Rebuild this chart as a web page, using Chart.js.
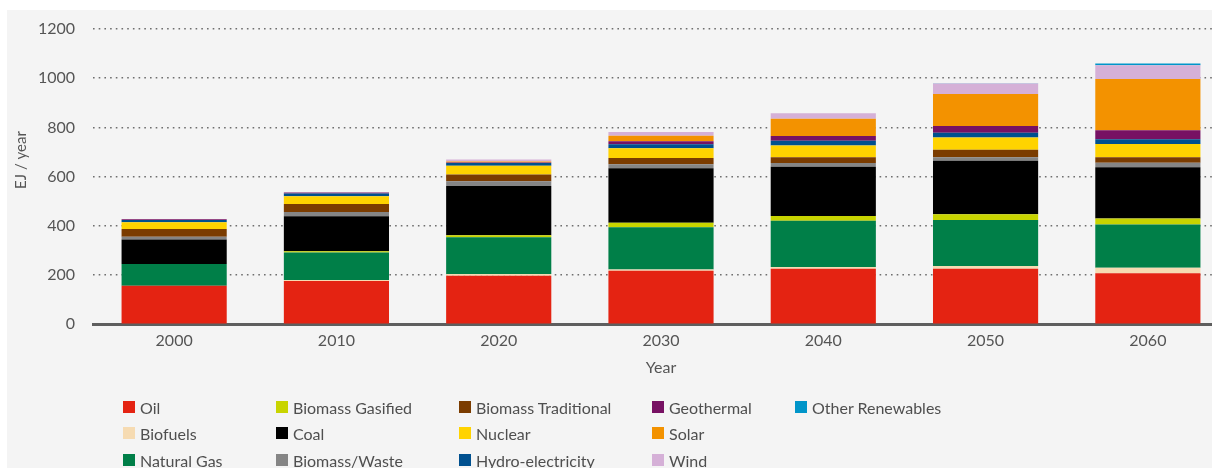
<!DOCTYPE html>
<html>
<head>
<meta charset="utf-8">
<script src="https://cdn.jsdelivr.net/npm/chart.js@4.4.1/dist/chart.umd.min.js"></script>
<style>
  html, body { margin: 0; padding: 0; width: 1212px; height: 468px; overflow: hidden; background: #ffffff; }
  #panel { position: absolute; left: 7px; top: 10px; width: 1205px; height: 458px; background: #f4f4f4; }
  #wrap { position: absolute; left: 0; top: 0; width: 1232px; height: 468px; }
  #legend { position: absolute; left: 0; top: 0; width: 1212px; height: 468px; pointer-events: none; }
  .item { position: absolute; display: flex; align-items: center; height: 20px; margin-top: -10px;
          font: 16px Lato, "Open Sans", sans-serif; color: #4f4f4f; white-space: nowrap; }
  .sw { width: 12px; height: 12px; margin-right: 5px; flex: none; }
</style>
</head>
<body>
<div id="panel"></div>
<div id="wrap"><canvas id="c"></canvas></div>
<div id="legend"></div>
<script>
// Primary energy by source, EJ per year
const years = ['2000', '2010', '2020', '2030', '2040', '2050', '2060'];

const oil                = [157, 176, 197, 218, 226, 226, 207];
const biofuels           = [  0,   4,   7,   5,   7,  11,  23];
const naturalGas         = [ 88, 112, 150, 171, 188, 187, 176];
const biomassGasified    = [  0,   5,   8,  19,  19,  23,  24];
const coal               = [100, 142, 200, 221, 200, 218, 208];
const biomassWaste       = [ 11,  17,  19,  16,  15,  14,  18];
const biomassTraditional = [ 31,  33,  28,  26,  24,  30,  23];
const nuclear            = [ 28,  31,  35,  39,  48,  50,  54];
const hydro              = [  9,  12,  11,  17,  19,  19,  19];
const geothermal         = [  3,   4,   3,  12,  19,  28,  37];
const solar              = [  0,   0,   4,  22,  70, 130, 208];
const wind               = [  0,   0,   8,  15,  23,  43,  56];
const otherRenewables    = [  0,   0,   0,   0,   0,   1,   7];

const yTicks = [0, 200, 400, 600, 800, 1000, 1200];

// Stacked bottom to top, in legend order
const seriesNames = ['Oil', 'Biofuels', 'Natural Gas', 'Biomass Gasified', 'Coal', 'Biomass/Waste',
  'Biomass Traditional', 'Nuclear', 'Hydro-electricity', 'Geothermal', 'Solar', 'Wind', 'Other Renewables'];
const seriesValues = [oil, biofuels, naturalGas, biomassGasified, coal, biomassWaste,
  biomassTraditional, nuclear, hydro, geothermal, solar, wind, otherRenewables];
const seriesColors = ['#e42312', '#f6dbb2', '#007f48', '#c8d400', '#000000', '#858585',
  '#7b3c00', '#ffd300', '#00508f', '#771163', '#f39200', '#d5b0d7', '#0095c9'];

const FONT = 'Lato, "Open Sans", sans-serif';
const TEXT = '#555555';

const datasets = seriesNames.map((name, i) => ({
  label: name,
  data: seriesValues[i],
  backgroundColor: seriesColors[i],
  borderWidth: 0,
  barPercentage: 0.648,
  categoryPercentage: 1.0
}));

// Rotated y-axis caption
const yCaption = {
  id: 'yCaption',
  afterDraw(chart) {
    const ctx = chart.ctx;
    ctx.save();
    ctx.translate(21, 160);
    ctx.rotate(-Math.PI / 2);
    ctx.font = '15px ' + FONT;
    ctx.fillStyle = TEXT;
    ctx.textAlign = 'center';
    ctx.textBaseline = 'middle';
    ctx.fillText('EJ / year', 0, 0);
    ctx.restore();
  }
};

new Chart(document.getElementById('c'), {
  type: 'bar',
  data: { labels: years, datasets },
  plugins: [yCaption],
  options: {
    responsive: true,
    maintainAspectRatio: false,
    animation: false,
    layout: { padding: { left: 0, right: 3, top: 29, bottom: 83.7 } },
    plugins: { legend: { display: false }, tooltip: { enabled: false } },
    scales: {
      x: {
        stacked: true,
        grid: { display: false, drawTicks: false },
        border: { display: true, color: '#5e5e5e', width: 3 },
        ticks: { color: TEXT, font: { family: FONT, size: 16 }, padding: 7 },
        title: { display: true, text: 'Year', color: TEXT, font: { family: FONT, size: 16 },
                 padding: { top: 6.7, bottom: 6.7 } },
        afterFit(scale) { scale.height = 60; }
      },
      y: {
        stacked: true,
        min: 0,
        max: 1200,
        afterBuildTicks(scale) { scale.ticks = yTicks.map(v => ({ value: v })); },
        grid: {
          drawTicks: false,
          color: ctx => (ctx.tick && ctx.tick.value === 0) ? 'rgba(0,0,0,0)' : '#6e6e6e',
          lineWidth: 1.5
        },
        border: { display: false, dash: [1.6, 4.1] },
        ticks: {
          color: TEXT,
          font: { family: FONT, size: 16 },
          padding: 18,
          callback: v => String(v)
        },
        afterFit(scale) { scale.width = 93; }
      }
    }
  }
});

// Legend laid out in columns of three rows
const legend = document.getElementById('legend');
const colX = [123, 276, 459, 652, 795];
const rowY = [407, 433, 460];
seriesNames.forEach((name, i) => {
  const item = document.createElement('div');
  item.className = 'item';
  item.style.left = colX[Math.floor(i / 3)] + 'px';
  item.style.top = rowY[i % 3] + 'px';
  const sw = document.createElement('span');
  sw.className = 'sw';
  sw.style.background = seriesColors[i];
  const tx = document.createElement('span');
  tx.textContent = name;
  item.appendChild(sw);
  item.appendChild(tx);
  legend.appendChild(item);
});
</script>
</body>
</html>
